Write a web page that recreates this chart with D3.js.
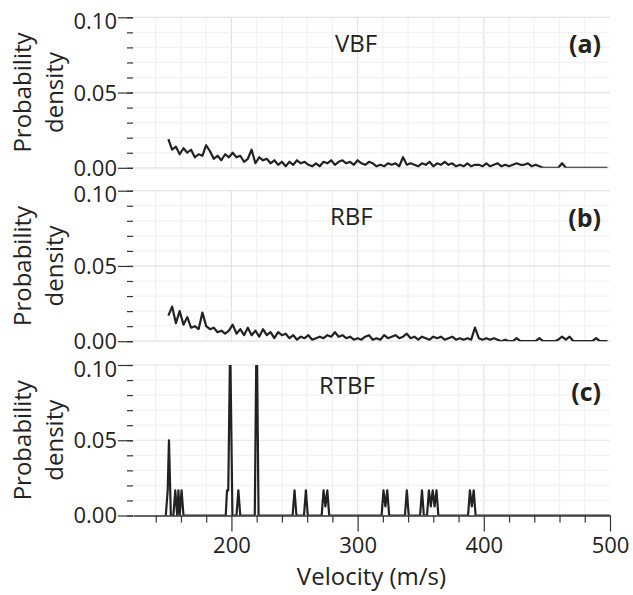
<!DOCTYPE html>
<html>
<head>
<meta charset="utf-8">
<script src="https://cdn.jsdelivr.net/npm/d3@7"></script>
<style>
  body { margin: 0; background: #fff; }
  text { font-family: "Open Sans", "Noto Sans", sans-serif; fill: #222; }
</style>
</head>
<body>
<svg id="canvas" width="633" height="595"></svg>
<script>
// velocity bins (m/s) shared by VBF and RBF
const velocityBins = d3.range(150, 499, 3);

const vbfDensity = [
  .019, .012, .014, .009, .013, .010, .012, .007, .009, .008,
  .015, .011, .006, .008, .005, .009, .007, .010, .007, .008,
  .004, .006, .012, .003, .007, .005, .006, .003, .005, .002,
  .004, .001, .004, .002, .005, .003, .004, .002, .001, .003,
  .001, .004, .003, .005, .002, .004, .005, .003, .004, .002,
  .005, .003, .002, .004, .003, .001, .002, .001, .003, .002,
  .003, .001, .007, .002, .003, .002, .001, .003, .002, .004,
  .001, .003, .002, .004, .002, .003, .001, .002, .001, .003,
  .001, .002, .002, .001, .003, .001, .002, .003, .001, .002,
  .001, .002, .003, .002, .002, .003, .001, .002, .001, 0,
  0, 0, 0, 0, .003, 0, 0, 0, 0, 0,
  0, 0, 0, 0, 0, 0, 0
];

const rbfDensity = [
  .017, .023, .012, .020, .011, .016, .009, .010, .008, .019,
  .010, .008, .009, .006, .007, .005, .007, .011, .005, .008,
  .004, .009, .004, .007, .003, .008, .004, .006, .002, .006,
  .004, .005, .002, .004, .001, .003, .002, .004, .001, .002,
  .003, .002, .004, .003, .006, .003, .004, .002, .003, .001,
  .002, .001, .003, .004, .001, .002, .001, .004, .002, .003,
  .004, .002, .003, .005, .002, .003, .001, .003, .002, .001,
  .003, .002, .003, .001, .002, .003, .001, .002, .001, .002,
  .001, .009, .002, .001, .002, .001, .002, .001, 0, .001,
  0, 0, .002, 0, 0, 0, 0, 0, .002, 0,
  0, 0, 0, .001, .003, .001, .003, 0, 0, 0,
  0, 0, 0, .002, 0, 0, 0
];

// RTBF is sparse: isolated spikes
const rtbfVelocity = [
  148, 149.5, 150.5, 152, 154, 155.5, 157, 158, 159, 160.5, 162,
  195.5, 196.5, 197.5, 199, 200.8, 204, 205.5, 207, 218.5, 220, 221.5,
  248.5, 250, 251.5, 257.5, 259, 260.5,
  271.5, 273, 274.5, 276, 277.5,
  319, 320.5, 322, 323.5, 325,
  337.5, 339, 340.5, 349.5, 351, 352.5,
  355, 356.5, 358, 359.5, 361, 362.5, 364,
  387.5, 389, 390.5, 392, 393.5, 500
];
const rtbfDensity = [
  0, .0167, .05, 0, 0, .0167, 0, .0167, 0, .0167, 0,
  0, .0167, .0167, .117, 0, 0, .0167, 0, 0, .133, 0,
  0, .0167, 0, 0, .0167, 0,
  0, .0167, .006, .0167, 0,
  0, .0167, .006, .0167, 0,
  0, .0167, 0, 0, .0167, 0,
  0, .0167, .006, .0167, .006, .0167, 0,
  0, .0167, .006, .0167, 0, 0
];

const panelNames = ["VBF", "RBF", "RTBF"];
const panelTags = ["(a)", "(b)", "(c)"];
const yTicks = [0, 0.05, 0.10];
const xTicks = [200, 300, 400, 500];

const panels = [
  velocityBins.map((v, i) => [v, vbfDensity[i]]),
  velocityBins.map((v, i) => [v, rbfDensity[i]]),
  rtbfVelocity.map((v, i) => [v, rtbfDensity[i]])
];

const svg = d3.select("#canvas");
const left = 133, right = 610;
const panelTop = [17.3, 190.7, 365];
const panelH = 150.5;
const titleX = [335, 330, 319];
const titleDy = [35, 34, 29];

const x = d3.scaleLinear().domain([122, 500]).range([left, right]);

panels.forEach((data, p) => {
  const top = panelTop[p];
  const y = d3.scaleLinear().domain([0, 0.10]).range([top + panelH, top]);
  const g = svg.append("g");

  // grid
  const minorX = d3.range(140, 500, 20);
  const minorY = d3.range(0, 0.1001, 0.01);
  g.selectAll(".gx").data(minorX).join("line")
    .attr("x1", d => x(d)).attr("x2", d => x(d))
    .attr("y1", top).attr("y2", top + panelH)
    .attr("stroke", d => d % 100 === 0 ? "#e2e2e2" : "#f2f2f2")
    .attr("stroke-width", 1.2);
  g.selectAll(".gy").data(minorY).join("line")
    .attr("x1", left).attr("x2", right)
    .attr("y1", d => y(d)).attr("y2", d => y(d))
    .attr("stroke", (d, i) => i % 5 === 0 ? "#e2e2e2" : "#f2f2f2")
    .attr("stroke-width", 1.2);

  // y axis: major and minor ticks, no domain line
  const yMinor = svg.append("g")
    .attr("transform", `translate(${left},0)`)
    .call(d3.axisLeft(y).tickValues(minorY).tickSize(6).tickFormat(""));
  yMinor.select(".domain").remove();
  yMinor.selectAll("line").attr("stroke", "#333").attr("stroke-width", 1.2);

  const yAxis = svg.append("g")
    .attr("transform", `translate(${left},0)`)
    .call(d3.axisLeft(y).tickValues(yTicks).tickSize(15).tickPadding(1).tickFormat(d3.format(".2f")));
  yAxis.select(".domain").remove();
  yAxis.selectAll("line").attr("stroke", "#333").attr("stroke-width", 1.2);
  yAxis.selectAll("text").attr("font-size", 22).attr("fill", "#222")
    .style("font-family", '"Open Sans", sans-serif')
    .attr("dy", d => d === 0.10 ? "0.5em" : "0.34em");

  // y label
  const yl = svg.append("text")
    .attr("transform", `translate(31,${top + panelH / 2}) rotate(-90)`)
    .attr("text-anchor", "middle")
    .attr("font-size", 24);
  yl.append("tspan").attr("x", 0).attr("y", 0).text("Probability");
  yl.append("tspan").attr("x", 0).attr("y", 32).text("density");

  // data line, clipped to the panel
  svg.append("clipPath").attr("id", "clip" + p)
    .append("rect").attr("x", left).attr("y", top)
    .attr("width", right - left).attr("height", panelH);
  svg.append("path")
    .datum(data)
    .attr("clip-path", `url(#clip${p})`)
    .attr("fill", "none")
    .attr("stroke", "#222")
    .attr("stroke-width", 2.2)
    .attr("stroke-linejoin", "round")
    .attr("d", d3.line().x(d => x(d[0])).y(d => y(d[1])));

  // titles
  svg.append("text")
    .attr("x", titleX[p]).attr("y", top + titleDy[p])
    .attr("font-size", 24)
    .text(panelNames[p]);
  svg.append("text")
    .attr("x", 601).attr("y", top + 36)
    .attr("text-anchor", "end")
    .attr("font-size", 25)
    .attr("font-weight", "bold")
    .text(panelTags[p]);

  // x axis on bottom panel only
  if (p === 2) {
    const base = top + panelH;
    const xMinor = svg.append("g")
      .attr("transform", `translate(0,${base})`)
      .call(d3.axisBottom(x).tickValues(d3.range(140, 500, 20).filter(d => d % 100 !== 0))
        .tickSize(7).tickFormat(""));
    xMinor.select(".domain").remove();
    xMinor.selectAll("line").attr("stroke", "#333").attr("stroke-width", 1.2);

    const xAxis = svg.append("g")
      .attr("transform", `translate(0,${base})`)
      .call(d3.axisBottom(x).tickValues(xTicks).tickSize(16).tickSizeOuter(0).tickPadding(6));
    xAxis.select(".domain").attr("stroke", "#333").attr("stroke-width", 1.5);
    xAxis.selectAll("line").attr("stroke", "#333").attr("stroke-width", 1.2);
    xAxis.selectAll("text").attr("font-size", 22).attr("fill", "#222")
      .style("font-family", '"Open Sans", sans-serif');

    svg.append("text")
      .attr("x", (left + right) / 2).attr("y", 585)
      .attr("text-anchor", "middle")
      .attr("font-size", 24)
      .text("Velocity (m/s)");
  }
});
</script>
</body>
</html>
